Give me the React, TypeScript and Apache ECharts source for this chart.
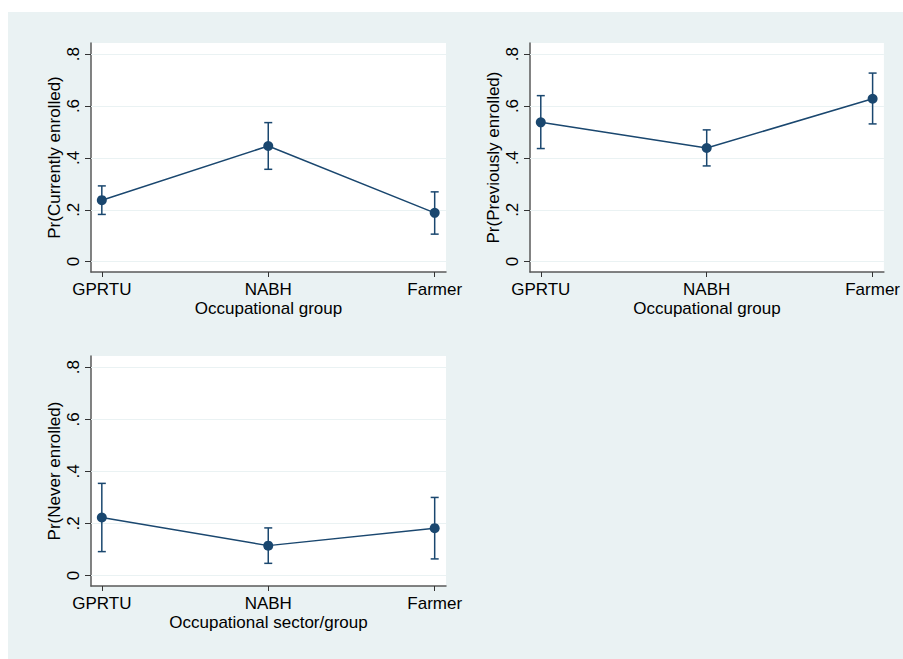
import React, { useEffect, useRef } from "react";
import * as echarts from "echarts";

const categories = ["GPRTU", "NABH", "Farmer"];
const yTicks = [0, 0.2, 0.4, 0.6, 0.8];

const currentMean = [0.237, 0.446, 0.188];
const currentLow = [0.182, 0.356, 0.106];
const currentHigh = [0.292, 0.536, 0.269];

const previousMean = [0.537, 0.438, 0.628];
const previousLow = [0.436, 0.369, 0.531];
const previousHigh = [0.64, 0.508, 0.727];

const neverMean = [0.223, 0.115, 0.182];
const neverLow = [0.092, 0.047, 0.064];
const neverHigh = [0.354, 0.183, 0.3];

const panels = [
  { yTitle: "Pr(Currently enrolled)", xTitle: "Occupational group", mean: currentMean, low: currentLow, high: currentHigh },
  { yTitle: "Pr(Previously enrolled)", xTitle: "Occupational group", mean: previousMean, low: previousLow, high: previousHigh },
  { yTitle: "Pr(Never enrolled)", xTitle: "Occupational sector/group", mean: neverMean, low: neverLow, high: neverHigh },
];

const gridBoxes = [
  { left: 91, top: 43, width: 355, height: 229 },
  { left: 530, top: 43, width: 355, height: 229 },
  { left: 91, top: 356, width: 355, height: 230 },
];

const NAVY = "#1A476F";
const GRIDC = "#EAF2F3";
const FONT = "Liberation Sans";

function fmtY(v: number) {
  if (Math.abs(v) < 1e-9) return "0";
  return String(Math.round(v * 10) / 10).replace(/^0\./, ".");
}

export default function App() {
  const ref = useRef<HTMLDivElement>(null);
  useEffect(() => {
    if (!ref.current) return;
    const chart = echarts.init(ref.current, undefined, { renderer: "svg" });
    const grid: any[] = [];
    const xAxis: any[] = [];
    const yAxis: any[] = [];
    const series: any[] = [];
    panels.forEach((p, i) => {
      const g = gridBoxes[i];
      grid.push({ ...g, show: true, backgroundColor: "#ffffff", borderWidth: 0 });
      xAxis.push({
        type: "value",
        gridIndex: i,
        min: -0.065,
        max: 2.068,
        name: p.xTitle,
        nameLocation: "middle",
        nameGap: 28,
        nameTextStyle: { fontFamily: FONT, fontSize: 17, color: "#000" },
        axisLine: { show: true, onZero: false, lineStyle: { color: "#5a5a5a", width: 1.5 } },
        axisTick: { show: true, length: 5, customValues: [0, 1, 2], lineStyle: { color: "#333", width: 1 } },
        axisLabel: {
          show: true,
          customValues: [0, 1, 2],
          margin: 9,
          fontFamily: FONT,
          fontSize: 17,
          color: "#000",
          formatter: (v: number) => categories[Math.round(v)] ?? "",
        },
        splitLine: { show: false },
      });
      yAxis.push({
        type: "value",
        gridIndex: i,
        min: -0.04,
        max: 0.843,
        name: p.yTitle,
        nameLocation: "middle",
        nameGap: 28,
        nameTextStyle: { fontFamily: FONT, fontSize: 17, color: "#000" },
        axisLine: { show: true, onZero: false, lineStyle: { color: "#5a5a5a", width: 1.5 } },
        axisTick: { show: true, length: 6, customValues: yTicks, lineStyle: { color: "#333", width: 1 } },
        axisLabel: {
          show: true,
          customValues: yTicks,
          rotate: 90,
          margin: 9,
          fontFamily: FONT,
          fontSize: 17,
          color: "#000",
          formatter: (v: number) => fmtY(v),
        },
        splitLine: { show: false },
      });
      series.push({
        type: "line",
        xAxisIndex: i,
        yAxisIndex: i,
        data: p.mean.map((v, k) => [k, v]),
        symbol: "circle",
        symbolSize: 10,
        itemStyle: { color: NAVY },
        lineStyle: { color: NAVY, width: 1.5 },
        z: 4,
        markLine: {
          silent: true,
          symbol: ["none", "none"],
          label: { show: false },
          lineStyle: { color: GRIDC, width: 1, type: "solid" },
          data: yTicks.map((t) => ({ yAxis: t })),
          z: 1,
        },
      });
      series.push({
        type: "custom",
        xAxisIndex: i,
        yAxisIndex: i,
        z: 3,
        data: p.mean.map((_, k) => [k, p.low[k], p.high[k]]),
        encode: { x: 0, y: [1, 2] },
        renderItem: (params: any, api: any) => {
          const x = api.value(0);
          const lo = api.coord([x, api.value(1)]);
          const hi = api.coord([x, api.value(2)]);
          const hw = 4;
          const st = { stroke: NAVY, lineWidth: 1.5 };
          return {
            type: "group",
            children: [
              { type: "line", shape: { x1: lo[0], y1: lo[1], x2: hi[0], y2: hi[1] }, style: st },
              { type: "line", shape: { x1: lo[0] - hw, y1: lo[1], x2: lo[0] + hw, y2: lo[1] }, style: st },
              { type: "line", shape: { x1: hi[0] - hw, y1: hi[1], x2: hi[0] + hw, y2: hi[1] }, style: st },
            ],
          };
        },
      });
    });
    chart.setOption({
      animation: false,
      backgroundColor: "transparent",
      grid,
      xAxis,
      yAxis,
      series,
    });
    return () => chart.dispose();
  }, []);
  return (
    <div style={{ position: "absolute", left: 0, top: 0, width: 903, height: 659, background: "#ffffff", overflow: "hidden" }}>
      <div style={{ position: "absolute", left: 8, top: 12, width: 895, height: 647, background: GRIDC }} />
      <div ref={ref} style={{ position: "absolute", left: 0, top: 0, width: 903, height: 659 }} />
    </div>
  );
}
